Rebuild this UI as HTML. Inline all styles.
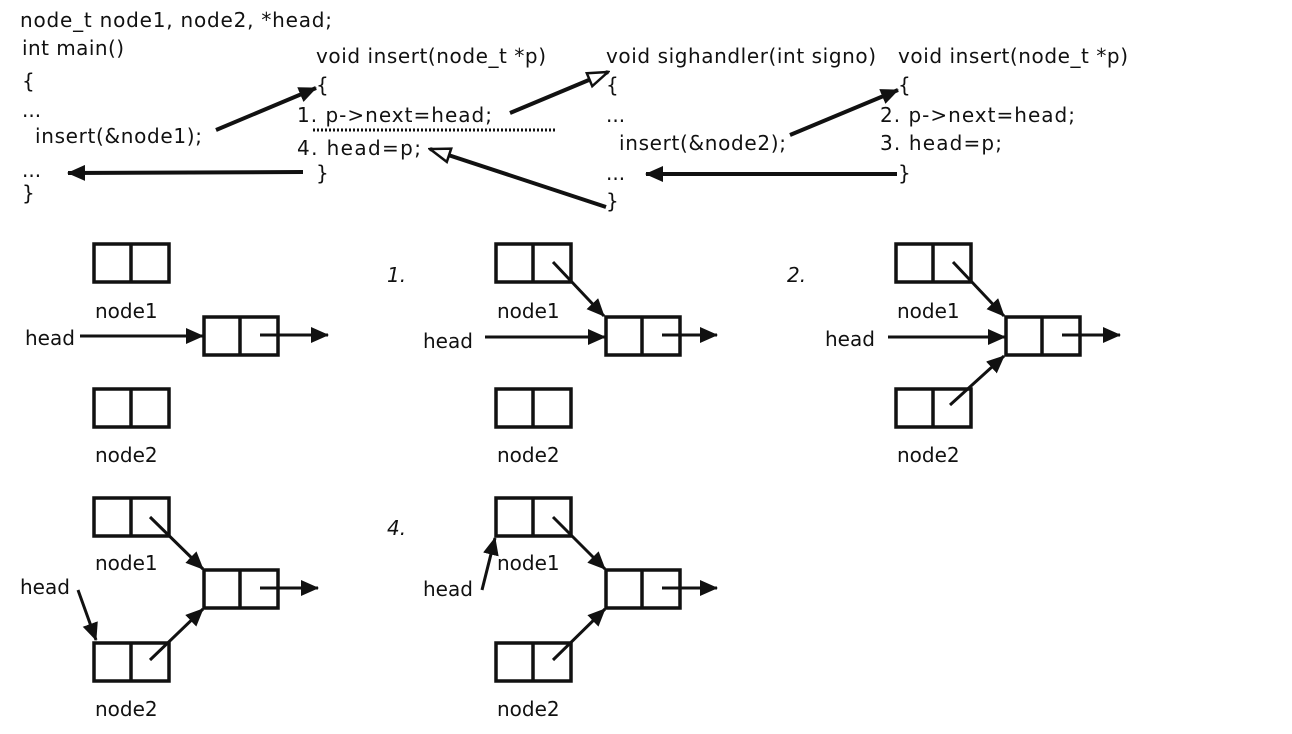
<!DOCTYPE html>
<html><head><meta charset="utf-8"><style>
html,body{margin:0;padding:0;background:#fff;}
svg{display:block;}
text{font-family:"DejaVu Sans","Liberation Sans",sans-serif;font-size:20px;fill:#111;}
</style></head><body>
<svg width="1292" height="734" viewBox="0 0 1292 734" xmlns="http://www.w3.org/2000/svg">
<defs>
<marker id="fb" markerWidth="18" markerHeight="16" refX="17" refY="8" orient="auto" markerUnits="userSpaceOnUse" viewBox="0 0 18 16"><path d="M0,0 L18,8 L0,16 z" fill="#111"/></marker>
<marker id="h" markerWidth="24" markerHeight="18" refX="22" refY="9" orient="auto" markerUnits="userSpaceOnUse" viewBox="0 0 24 18"><path d="M2,2 L22,9 L2,16 z" fill="#fff" stroke="#111" stroke-width="2.5"/></marker>
<marker id="s" markerWidth="18" markerHeight="16" refX="17" refY="8" orient="auto" markerUnits="userSpaceOnUse" viewBox="0 0 18 16"><path d="M0,0 L18,8 L0,16 z" fill="#111"/></marker>
</defs>
<text x="20" y="27" textLength="312">node_t node1, node2, *head;</text>
<text x="22" y="55" textLength="102">int main()</text>
<text x="22" y="88">{</text>
<text x="22" y="117">...</text>
<text x="35" y="143" textLength="167">insert(&amp;node1);</text>
<text x="22" y="177">...</text>
<text x="22" y="200">}</text>

<text x="316" y="63" textLength="230">void insert(node_t *p)</text>
<text x="316" y="92">{</text>
<text x="297" y="122" textLength="195">1.  p-&gt;next=head;</text>
<line x1="313" y1="130" x2="555" y2="130" stroke="#111" stroke-width="3" stroke-dasharray="2,2"/>
<text x="297" y="155" textLength="124">4.  head=p;</text>
<text x="316" y="180">}</text>

<text x="606" y="63" textLength="270">void sighandler(int signo)</text>
<text x="606" y="92">{</text>
<text x="606" y="122">...</text>
<text x="619" y="150" textLength="167">insert(&amp;node2);</text>
<text x="606" y="180">...</text>
<text x="606" y="208">}</text>

<text x="898" y="63" textLength="230">void insert(node_t *p)</text>
<text x="898" y="92">{</text>
<text x="880" y="122" textLength="195">2.  p-&gt;next=head;</text>
<text x="880" y="150" textLength="122">3.  head=p;</text>
<text x="898" y="180">}</text>

<g stroke="#111" stroke-width="4" fill="none">
<line x1="216" y1="130" x2="316" y2="88" marker-end="url(#fb)"/>
<line x1="303" y1="172" x2="68" y2="173" marker-end="url(#fb)"/>
<line x1="510" y1="113" x2="608" y2="72" marker-end="url(#h)"/>
<line x1="606" y1="207" x2="430" y2="149" marker-end="url(#h)"/>
<line x1="790" y1="135" x2="898" y2="90" marker-end="url(#fb)"/>
<line x1="897" y1="174" x2="646" y2="174" marker-end="url(#fb)"/>
</g>

<text x="387" y="282" font-style="italic">1.</text>
<text x="787" y="282" font-style="italic">2.</text>
<text x="387" y="535" font-style="italic">4.</text>

<g fill="#fff" stroke="#111" stroke-width="3.5">
<rect x="94" y="244" width="75" height="38"/><line x1="131" y1="244" x2="131" y2="282"/>
<rect x="94" y="389" width="75" height="38"/><line x1="131" y1="389" x2="131" y2="427"/>
<rect x="204" y="317" width="74" height="38"/><line x1="240" y1="317" x2="240" y2="355"/>
<rect x="496" y="244" width="75" height="38"/><line x1="533" y1="244" x2="533" y2="282"/>
<rect x="496" y="389" width="75" height="38"/><line x1="533" y1="389" x2="533" y2="427"/>
<rect x="606" y="317" width="74" height="38"/><line x1="642" y1="317" x2="642" y2="355"/>
<rect x="896" y="244" width="75" height="38"/><line x1="933" y1="244" x2="933" y2="282"/>
<rect x="896" y="389" width="75" height="38"/><line x1="933" y1="389" x2="933" y2="427"/>
<rect x="1006" y="317" width="74" height="38"/><line x1="1042" y1="317" x2="1042" y2="355"/>
<rect x="94" y="498" width="75" height="38"/><line x1="131" y1="498" x2="131" y2="536"/>
<rect x="94" y="643" width="75" height="38"/><line x1="131" y1="643" x2="131" y2="681"/>
<rect x="204" y="570" width="74" height="38"/><line x1="240" y1="570" x2="240" y2="608"/>
<rect x="496" y="498" width="75" height="38"/><line x1="533" y1="498" x2="533" y2="536"/>
<rect x="496" y="643" width="75" height="38"/><line x1="533" y1="643" x2="533" y2="681"/>
<rect x="606" y="570" width="74" height="38"/><line x1="642" y1="570" x2="642" y2="608"/>
</g>

<g stroke="#111" stroke-width="3" fill="none">
<line x1="80" y1="336" x2="203" y2="336" marker-end="url(#s)"/>
<line x1="260" y1="335" x2="328" y2="335" marker-end="url(#s)"/>
<line x1="485" y1="337" x2="605" y2="337" marker-end="url(#s)"/>
<line x1="553" y1="262" x2="604" y2="316" marker-end="url(#s)"/>
<line x1="662" y1="335" x2="717" y2="335" marker-end="url(#s)"/>
<line x1="888" y1="337" x2="1005" y2="337" marker-end="url(#s)"/>
<line x1="953" y1="262" x2="1004" y2="316" marker-end="url(#s)"/>
<line x1="950" y1="405" x2="1004" y2="356" marker-end="url(#s)"/>
<line x1="1062" y1="335" x2="1120" y2="335" marker-end="url(#s)"/>
<line x1="150" y1="517" x2="203" y2="569" marker-end="url(#s)"/>
<line x1="150" y1="660" x2="203" y2="609" marker-end="url(#s)"/>
<line x1="78" y1="590" x2="96" y2="640" marker-end="url(#s)"/>
<line x1="260" y1="588" x2="318" y2="588" marker-end="url(#s)"/>
<line x1="482" y1="590" x2="495" y2="538" marker-end="url(#s)"/>
<line x1="553" y1="517" x2="605" y2="569" marker-end="url(#s)"/>
<line x1="553" y1="660" x2="605" y2="609" marker-end="url(#s)"/>
<line x1="662" y1="588" x2="717" y2="588" marker-end="url(#s)"/>
</g>

<text x="95" y="318">node1</text>
<text x="95" y="462">node2</text>
<text x="25" y="345">head</text>
<text x="497" y="318">node1</text>
<text x="497" y="462">node2</text>
<text x="423" y="348">head</text>
<text x="897" y="318">node1</text>
<text x="897" y="462">node2</text>
<text x="825" y="346">head</text>
<text x="95" y="570">node1</text>
<text x="95" y="716">node2</text>
<text x="20" y="594">head</text>
<text x="497" y="570">node1</text>
<text x="497" y="716">node2</text>
<text x="423" y="596">head</text>
</svg>
</body></html>
